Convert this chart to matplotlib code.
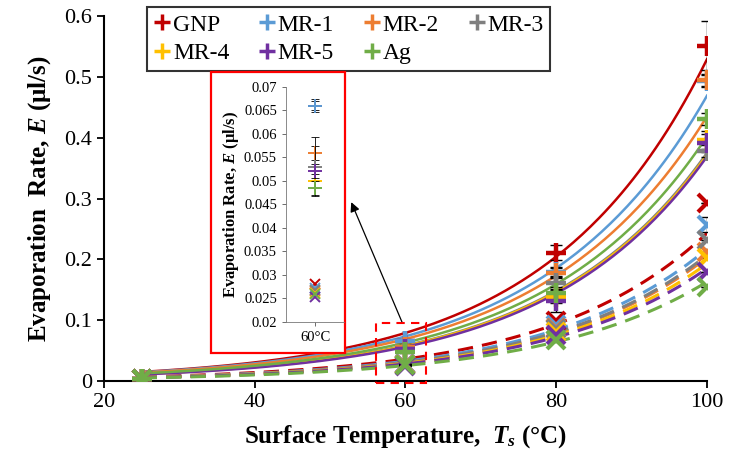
import numpy as np
import matplotlib
matplotlib.use("Agg")
import matplotlib.pyplot as plt
from matplotlib.lines import Line2D
from matplotlib.patches import Rectangle

plt.rcParams["font.family"] = ["Liberation Serif", "DejaVu Serif"]
plt.rcParams["mathtext.fontset"] = "custom"
plt.rcParams["mathtext.it"] = "Liberation Serif:italic:bold"
plt.rcParams["mathtext.bf"] = "Liberation Serif:bold"

# surface temperatures (°C)
temps = [25, 60, 80, 100]

names = ["GNP", "MR-1", "MR-2", "MR-3", "MR-4", "MR-5", "Ag"]
colors = ["#C00000", "#5B9BD5", "#ED7D31", "#7F7F7F", "#FFC000", "#7030A0", "#70AD47"]

# evaporation rate (ul/s), '+' series with solid trend lines
e_plus = {
    "GNP":  [0.0035, 0.066, 0.211, 0.551],
    "MR-1": [0.0033, 0.066, 0.180, 0.493],
    "MR-2": [0.0033, 0.056, 0.178, 0.495],
    "MR-3": [0.0030, 0.053, 0.161, 0.378],
    "MR-4": [0.0030, 0.050, 0.138, 0.396],
    "MR-5": [0.0030, 0.052, 0.132, 0.391],
    "Ag":   [0.0030, 0.0485, 0.144, 0.431],
}
err_plus = {
    "GNP":  [0, 0.0013, 0.012, 0.040],
    "MR-1": [0, 0.0010, 0.008, 0.010],
    "MR-2": [0, 0.0015, 0.008, 0.010],
    "MR-3": [0, 0.0063, 0.010, 0.010],
    "MR-4": [0, 0.0015, 0.010, 0.015],
    "MR-5": [0, 0.0015, 0.018, 0.015],
    "Ag":   [0, 0.0015, 0.010, 0.010],
}
# 'x' series with dashed trend lines
e_cross = {
    "GNP":  [0.0030, 0.0280, 0.098, 0.293],
    "MR-1": [0.0030, 0.0272, 0.092, 0.257],
    "MR-2": [0.0030, 0.0265, 0.087, 0.212],
    "MR-3": [0.0030, 0.0268, 0.085, 0.231],
    "MR-4": [0.0030, 0.0262, 0.081, 0.203],
    "MR-5": [0.0030, 0.0252, 0.076, 0.180],
    "Ag":   [0.0030, 0.0258, 0.067, 0.155],
}
err_cross = {
    "GNP":  [0, 0, 0, 0],
    "MR-1": [0, 0, 0, 0.012],
    "MR-2": [0, 0, 0, 0],
    "MR-3": [0, 0, 0, 0],
    "MR-4": [0, 0, 0, 0],
    "MR-5": [0, 0, 0, 0],
    "Ag":   [0, 0, 0, 0],
}

# exponential trend lines: value at 25 °C and at 100 °C
trend_plus_25 = [0.0150, 0.0145, 0.0138, 0.0115, 0.0113, 0.0108, 0.0125]
trend_plus_100 = [0.529, 0.469, 0.435, 0.375, 0.372, 0.369, 0.402]
trend_cross_25 = [0.0068, 0.0062, 0.0058, 0.0058, 0.0056, 0.0054, 0.0050]
trend_cross_100 = [0.243, 0.217, 0.203, 0.207, 0.193, 0.185, 0.163]


def exp_trend(lo, hi):
    xs = np.linspace(temps[0], temps[-1], 200)
    return xs, np.geomspace(lo, hi, 200)


fig = plt.figure(figsize=(7.36, 4.69), dpi=100)
ax = fig.add_axes([0.1413, 0.1876, 0.8193, 0.7783])

for i, c in enumerate(colors):
    xs, ys = exp_trend(trend_plus_25[i], trend_plus_100[i])
    ax.plot(xs, ys, color=c, lw=1.8, zorder=2)
    xs, ys = exp_trend(trend_cross_25[i], trend_cross_100[i])
    ax.plot(xs, ys, color=c, lw=2.2, ls=(0, (5, 3)), zorder=2)

for n, c in zip(names, colors):
    ax.errorbar(temps, e_plus[n], yerr=err_plus[n], fmt="none", ecolor="black",
                elinewidth=1, capsize=4, capthick=1, zorder=3)
    ax.errorbar(temps, e_cross[n], yerr=err_cross[n], fmt="none", ecolor="black",
                elinewidth=1, capsize=4, capthick=1, zorder=3)
    ax.plot(temps, e_plus[n], ls="none", marker="+", ms=14, mew=3.2, color=c, zorder=4)
    ax.plot(temps, e_cross[n], ls="none", marker="x", ms=13, mew=3, color=c, zorder=4)

ax.set_xlim(20, 100)
ax.set_ylim(0, 0.6)
ax.set_xticks([20, 40, 60, 80, 100])
ax.set_yticks(np.arange(0, 0.61, 0.1))
ax.set_yticklabels(["0", "0.1", "0.2", "0.3", "0.4", "0.5", "0.6"])
ax.tick_params(labelsize=16, width=1.3, length=5, direction="out")
for s in ["top", "right"]:
    ax.spines[s].set_visible(False)
for s in ["left", "bottom"]:
    ax.spines[s].set_linewidth(1.5)
ax.set_xlabel(r"Surface Temperature,  $\mathit{T_s}$ (°C)", fontsize=18,
              fontweight="bold", labelpad=8)
ax.set_ylabel(r"Evaporation  Rate, $\mathit{E}$ (μl/s)", fontsize=18,
              fontweight="bold", labelpad=8)

# legend, filled row by row like the original
order = [0, 4, 1, 5, 2, 6, 3]
handles = [Line2D([], [], ls="none", marker="+", ms=12, mew=2.5, color=colors[k]) for k in order]
leg = fig.legend(handles, [names[k] for k in order], loc="upper left",
                 bbox_to_anchor=(0.1997, 0.985), ncol=4, fontsize=17, frameon=True,
                 fancybox=False, edgecolor="black", handlelength=0.7,
                 handletextpad=0.1, columnspacing=1.25, borderpad=0.3,
                 labelspacing=0.3, borderaxespad=0)
leg.get_frame().set_linewidth(1.5)

# dashed box around the 60 degC points and arrow to the inset
ax.add_patch(Rectangle((56.1, -0.003), 6.6, 0.098, fill=False, ec="red", lw=1.5,
                       ls=(0, (4, 3)), clip_on=False, zorder=5))
ax.annotate("", xy=(52.8, 0.294), xytext=(59.6, 0.095),
            arrowprops=dict(arrowstyle="-|>", color="black", lw=0.9,
                            mutation_scale=14, shrinkA=0, shrinkB=0))

# inset frame
fig.patches.append(Rectangle((0.2867, 0.2473), 0.182, 0.599, transform=fig.transFigure,
                             fill=True, fc="white", ec="red", lw=1.6, zorder=6))

ins = fig.add_axes([0.3886, 0.314, 0.0788, 0.501])
ins.set_zorder(7)
ins.patch.set_alpha(0)
i60 = temps.index(60)
for n, c in zip(names, colors):
    ins.errorbar([1], [e_plus[n][i60]], yerr=[err_plus[n][i60]], fmt="none",
                 ecolor="black", elinewidth=0.6, capsize=3, capthick=0.6)
    ins.plot([1], [e_plus[n][i60]], ls="none", marker="+", ms=10, mew=1.4, color=c)
    ins.plot([1], [e_cross[n][i60]], ls="none", marker="x", ms=7, mew=1.4, color=c)
ins.set_xlim(0, 2)
ins.set_ylim(0.02, 0.07)
ins.set_xticks([1])
ins.set_xticklabels(["60°C"])
ins.set_yticks(np.arange(0.02, 0.0701, 0.005))
ins.set_yticklabels(["0.02", "0.025", "0.03", "0.035", "0.04", "0.045", "0.05",
                     "0.055", "0.06", "0.065", "0.07"])
ins.tick_params(labelsize=10.5, length=3, width=0.6, color="#555555")
for s in ["top", "right"]:
    ins.spines[s].set_visible(False)
for s in ["left", "bottom"]:
    ins.spines[s].set_linewidth(0.6)
    ins.spines[s].set_color("#777777")
ins.set_ylabel(r"Evaporation Rate, $\mathit{E}$ (μl/s)", fontsize=12,
               fontweight="bold", labelpad=2)

fig.savefig("out.png", dpi=100)
